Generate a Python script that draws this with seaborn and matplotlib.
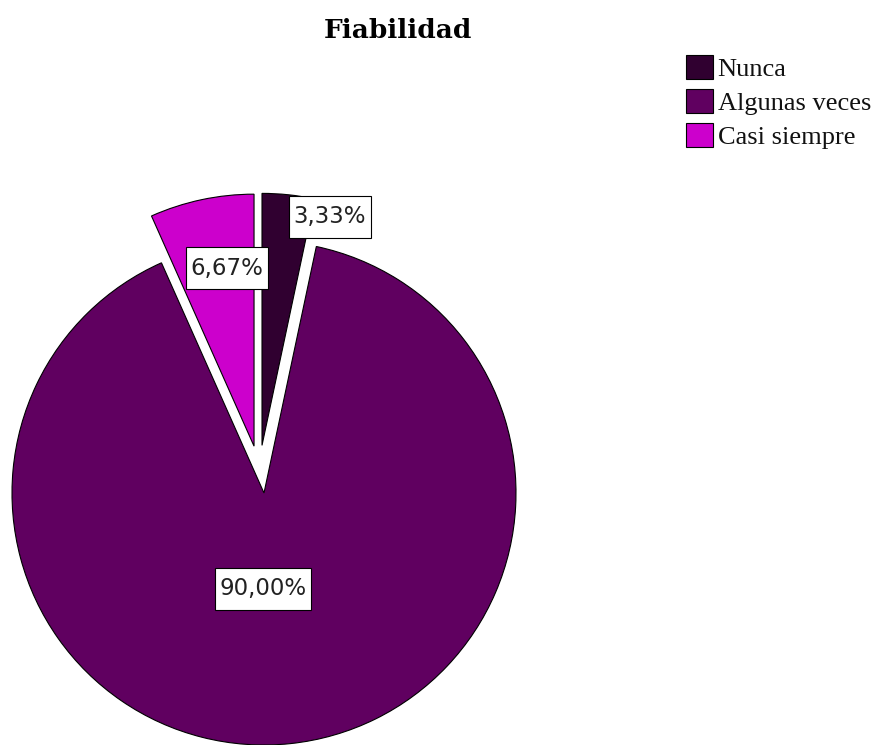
import matplotlib
matplotlib.use("Agg")
import matplotlib.pyplot as plt
from matplotlib.patches import Patch
from matplotlib.path import Path
import seaborn as sns

# Data
categories = ["Nunca", "Algunas veces", "Casi siempre"]
percentages = [3.33, 90.00, 6.67]
title = "Fiabilidad"

# Styling
colors = ["#300030", "#600060", "#cc00cc"]
explode = [0.19, 0.0, 0.19]

sns.set_theme(style="white")
plt.rcParams["font.family"] = ["DejaVu Sans"]

W, H = 877, 745
fig = plt.figure(figsize=(W / 100, H / 100), dpi=100)
fig.patch.set_facecolor("white")
ax = fig.add_axes([0, 0, 1, 1])

# pie centre and radius in pixels
cx, cy, rad = 264, 493, 252

wedges, texts, autotexts = ax.pie(
    percentages,
    colors=colors,
    explode=explode,
    startangle=90,
    counterclock=False,
    radius=1.0,
    wedgeprops=dict(edgecolor="black", linewidth=0.8),
    autopct=lambda p: f"{p:.2f}%".replace(".", ","),
    textprops=dict(fontsize=16.5, color="#222222"),
)

# the first slice is pulled out nearly straight up
x0, y0 = wedges[0].center
wedges[0].set_center((x0 - 7 / rad, y0))

ax.set_aspect("auto")
ax.set_xlim(-cx / rad, (W - cx) / rad)
ax.set_ylim(-(H - cy) / rad, cy / rad)
ax.axis("off")


def label_box(x0, y0, width, height, mutation_size):
    """Rectangle with less horizontal than vertical padding."""
    px = 0.2 * mutation_size
    py = 0.42 * mutation_size
    xa, xb = x0 - px, x0 + width + px
    ya, yb = y0 - py, y0 + height + py
    return Path([(xa, ya), (xb, ya), (xb, yb), (xa, yb), (xa, ya)],
                closed=True)


# percentage boxes (pixel positions of their centres)
label_px = [(330, 217), (263, 589), (227, 268)]
for t, (px, py) in zip(autotexts, label_px):
    t.set_position(((px - cx) / rad, (cy - py) / rad))
    t.set_ha("center")
    t.set_va("center")
    t.set_bbox(dict(boxstyle=label_box, facecolor="white",
                    edgecolor="black", linewidth=0.8))

fig.text(398 / W, 1 - 30 / H, title, ha="center", va="center",
         fontfamily="DejaVu Serif", fontweight="bold", fontsize=19,
         color="black")

handles = [Patch(facecolor=c, edgecolor="black", linewidth=0.8) for c in colors]
fig.legend(
    handles, categories,
    loc="upper left", bbox_to_anchor=(686 / W, 1 - 55 / H),
    frameon=False, borderpad=0, borderaxespad=0,
    handlelength=1.02, handleheight=1.02, handletextpad=0.18,
    labelspacing=0.3,
    prop=dict(family="Liberation Serif", size=19),
    labelcolor="#111111",
)

fig.savefig("out.png", dpi=100, facecolor="white")
